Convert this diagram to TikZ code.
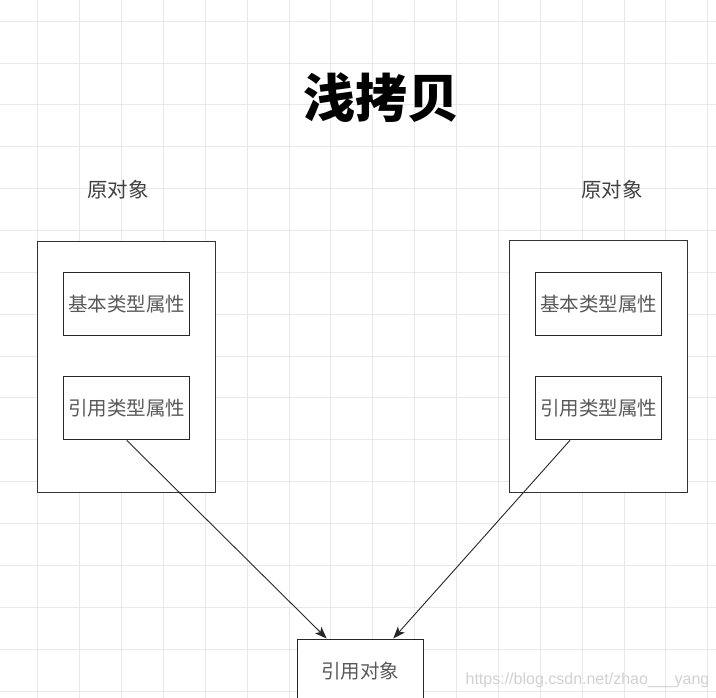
\documentclass[tikz,border=0pt]{standalone}
\usepackage{fontspec}
\usetikzlibrary{arrows.meta}
\newfontfamily\cjk{Noto Sans CJK SC}
\setmainfont{Liberation Sans}
\begin{document}
\begin{tikzpicture}[x=1pt,y=-1pt,
  gridline/.style={draw=black!9,line width=0.7pt},
  outerbox/.style={draw=black!80,fill=white,line width=1pt,minimum width=178pt,minimum height=251pt,inner sep=0pt},
  innerbox/.style={draw=black!85,fill=white,line width=1pt,minimum width=126pt,minimum height=63pt,inner sep=0pt,font=\cjk\fontsize{19.5}{22}\selectfont,text=black!65},
  lbl/.style={font=\cjk\fontsize{20.5}{24}\selectfont,text=black!75,inner sep=0pt},
  conn/.style={draw=black!85,line width=0.9pt,-{Stealth[length=12pt,width=9pt,inset=3pt]}}]
\useasboundingbox (0,0) rectangle (716,698);
\clip (0,0) rectangle (716,698);
\fill[white] (0,0) rectangle (716,698);
\foreach \k in {0,...,16} {
  \draw[gridline] ({37.7+41.87*\k},0) -- ({37.7+41.87*\k},698);
  \draw[gridline] (0,{21+41.87*\k}) -- (716,{21+41.87*\k});
}
\node[font=\cjk\bfseries\fontsize{52}{56}\selectfont,inner sep=0pt] (title) at (381,98) {浅拷贝};
\node[lbl] (llab) at (118,190) {原对象};
\node[lbl] (rlab) at (612,190) {原对象};
\node[outerbox] (lobj) at (126.5,366.6) {};
\node[innerbox] (lbase) at (126.7,303.7) {基本类型属性};
\node[innerbox] (lref) at (126.7,408.3) {引用类型属性};
\node[outerbox] (robj) at (598.2,366.5) {};
\node[innerbox] (rbase) at (598.5,303.7) {基本类型属性};
\node[innerbox] (rref) at (598.5,408.3) {引用类型属性};
\node[draw=black!85,fill=white,line width=1pt,minimum width=126pt,minimum height=64pt,inner sep=0pt,font=\cjk\fontsize{19.5}{22}\selectfont,text=black!65] (target) at (360.3,671) {引用对象};
\draw[conn] (lref.south) -- ([xshift=-33.6pt]target.north);
\draw[conn] ([xshift=-28.5pt]rref.south) -- ([xshift=33pt]target.north);
\node[font=\fontsize{16}{18}\selectfont,text=black!18,inner sep=0pt] (mark) at (587.5,680) {https://blog.csdn.net/zhao\_\_\_yang};
\end{tikzpicture}
\end{document}
